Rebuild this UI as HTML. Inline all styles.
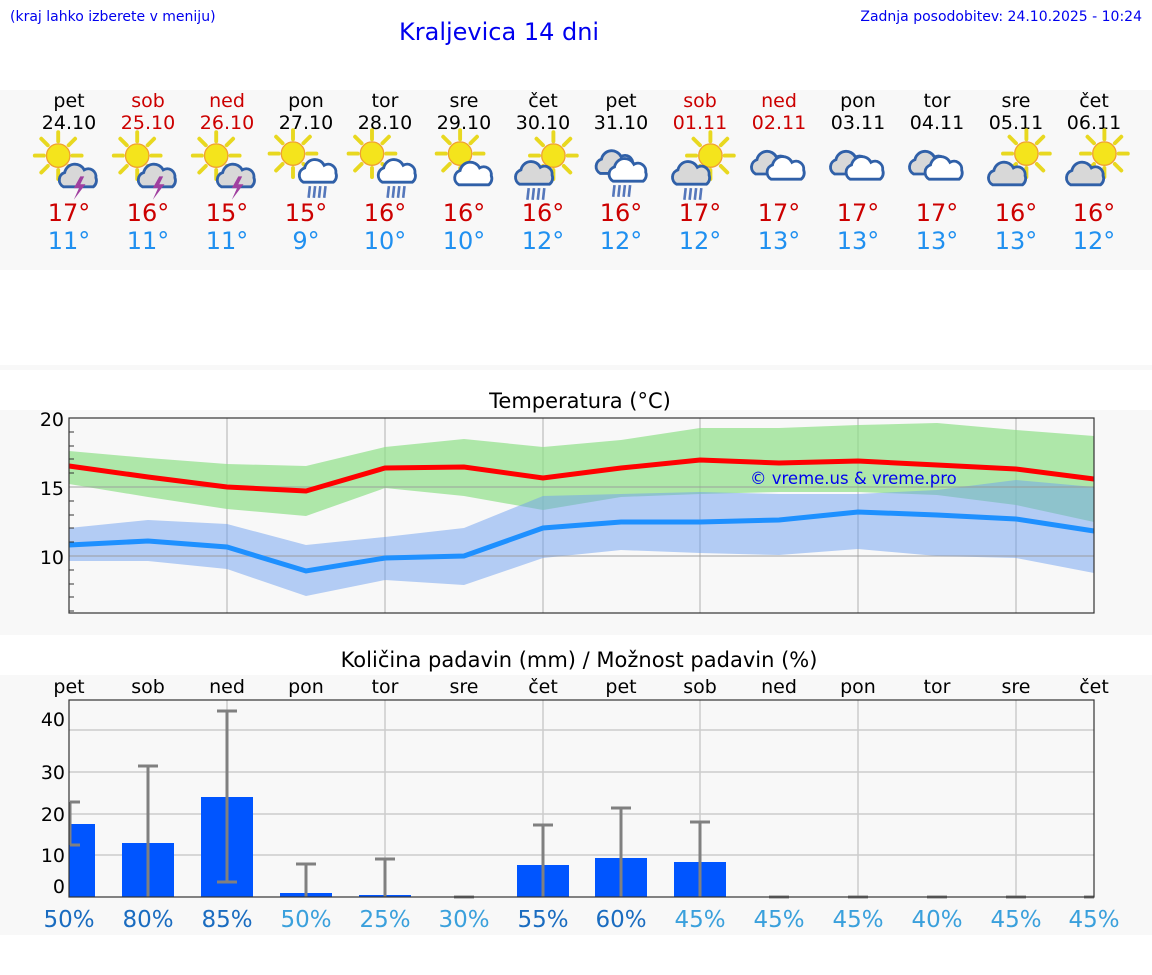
<!DOCTYPE html>
<html><head><meta charset="utf-8"><style>
body{margin:0;width:1152px;height:975px;background:#fff;font-family:"DejaVu Sans","Liberation Sans",sans-serif;overflow:hidden;position:relative}
svg{position:absolute;left:0;top:0}
</style></head><body>
<svg width="1152" height="975" viewBox="0 0 1152 975" font-family="DejaVu Sans, Liberation Sans, sans-serif">
<defs>
<g id="sun"><g stroke="#e8d820" stroke-width="3" stroke-linecap="round">
<line x1="0" y1="-11" x2="0" y2="-18"/><line x1="0" y1="11" x2="0" y2="18"/><line x1="-11" y1="0" x2="-18" y2="0"/><line x1="11" y1="0" x2="18" y2="0"/>
<line x1="8" y1="8" x2="13" y2="13"/><line x1="-8" y1="-8" x2="-13" y2="-13"/><line x1="8" y1="-8" x2="13" y2="-13"/><line x1="-8" y1="8" x2="-13" y2="13"/></g>
<circle r="9" fill="#f4e41c" stroke="#f0a030" stroke-width="1"/></g>
<path id="cl" d="M-12,8 a6,6 0 0 1 1,-11 a8,8 0 0 1 15,-2 a6,6 0 0 1 9,6 a6,6 0 0 1 -2,7 z" stroke="#3060a8" stroke-width="2.2"/>
<g id="rain" stroke="#5577bb" stroke-width="2"><line x1="-5" y1="0" x2="-6" y2="9"/><line x1="-1" y1="0" x2="-2" y2="9"/><line x1="3" y1="0" x2="2" y2="9"/><line x1="7" y1="0" x2="6" y2="9"/></g>
<g id="i0"><use href="#sun" x="-6" y="-8"/><use href="#cl" x="10" y="8" fill="#d8d8d8"/><path d="M11,8 l-5,9 h4 l-4,9 l9,-12 h-4 l3,-6z" fill="#a040a0"/></g>
<g id="i3"><use href="#sun" x="-10" y="-8"/><use href="#cl" x="10" y="6" fill="#fff"/><use href="#rain" x="8" y="17"/></g>
<g id="i5"><use href="#sun" x="-3" y="-8"/><use href="#cl" x="8" y="8" fill="#fff"/></g>
<g id="i6"><use href="#sun" x="8" y="-8"/><use href="#cl" x="-6" y="6" fill="#d8d8d8"/><use href="#rain" x="-6" y="17"/></g>
<g id="i7"><use href="#cl" x="-4" y="0" fill="#d8d8d8"/><use href="#cl" x="6" y="6" fill="#fff"/><use href="#rain" x="0" y="17"/></g>
<g id="i9"><use href="#cl" x="-6" y="2" fill="#d8d8d8"/><use href="#cl" x="6" y="6" fill="#fff"/></g>
<g id="i12"><use href="#sun" x="8" y="-8"/><use href="#cl" x="-6" y="8" fill="#d8d8d8"/></g>
</defs>

<text x="10" y="21" font-size="14" fill="#0000ee">(kraj lahko izberete v meniju)</text>
<text x="399" y="40" font-size="24" fill="#0000ee">Kraljevica 14 dni</text>
<text x="1142" y="21" font-size="14" fill="#0000ee" text-anchor="end">Zadnja posodobitev: 24.10.2025 - 10:24</text>

<rect x="0" y="90" width="1152" height="180" fill="#f8f8f8"/>
<rect x="0" y="365" width="1152" height="5" fill="#f8f8f8"/>
<rect x="0" y="410" width="1152" height="225" fill="#f8f8f8"/>
<rect x="0" y="675" width="1152" height="260" fill="#f8f8f8"/>

<g font-size="19" text-anchor="middle">
<g fill="#000"><text x="69" y="107">pet</text><text x="306" y="107">pon</text><text x="385" y="107">tor</text><text x="464" y="107">sre</text><text x="543" y="107">čet</text><text x="621" y="107">pet</text><text x="858" y="107">pon</text><text x="937" y="107">tor</text><text x="1016" y="107">sre</text><text x="1094" y="107">čet</text>
<text x="69" y="129">24.10</text><text x="306" y="129">27.10</text><text x="385" y="129">28.10</text><text x="464" y="129">29.10</text><text x="543" y="129">30.10</text><text x="621" y="129">31.10</text><text x="858" y="129">03.11</text><text x="937" y="129">04.11</text><text x="1016" y="129">05.11</text><text x="1094" y="129">06.11</text></g>
<g fill="#cc0000"><text x="148" y="107">sob</text><text x="227" y="107">ned</text><text x="700" y="107">sob</text><text x="779" y="107">ned</text>
<text x="148" y="129">25.10</text><text x="227" y="129">26.10</text><text x="700" y="129">01.11</text><text x="779" y="129">02.11</text></g>
</g>

<g transform="translate(66,166) scale(1.3)"><use href="#i0"/></g>
<g transform="translate(145,166) scale(1.3)"><use href="#i0"/></g>
<g transform="translate(224,166) scale(1.3)"><use href="#i0"/></g>
<g transform="translate(306,164) scale(1.3)"><use href="#i3"/></g>
<g transform="translate(385,164) scale(1.3)"><use href="#i3"/></g>
<g transform="translate(464,164) scale(1.3)"><use href="#i5"/></g>
<g transform="translate(543,166) scale(1.3)"><use href="#i6"/></g>
<g transform="translate(621,163) scale(1.3)"><use href="#i7"/></g>
<g transform="translate(700,166) scale(1.3)"><use href="#i6"/></g>
<g transform="translate(779,161) scale(1.3)"><use href="#i9"/></g>
<g transform="translate(858,161) scale(1.3)"><use href="#i9"/></g>
<g transform="translate(937,161) scale(1.3)"><use href="#i9"/></g>
<g transform="translate(1016,164) scale(1.3)"><use href="#i12"/></g>
<g transform="translate(1094,164) scale(1.3)"><use href="#i12"/></g>

<g font-size="24" text-anchor="middle" fill="#cc0000">
<text x="69" y="221">17°</text><text x="148" y="221">16°</text><text x="227" y="221">15°</text><text x="306" y="221">15°</text><text x="385" y="221">16°</text><text x="464" y="221">16°</text><text x="543" y="221">16°</text><text x="621" y="221">16°</text><text x="700" y="221">17°</text><text x="779" y="221">17°</text><text x="858" y="221">17°</text><text x="937" y="221">17°</text><text x="1016" y="221">16°</text><text x="1094" y="221">16°</text></g>
<g font-size="24" text-anchor="middle" fill="#2090f0">
<text x="69" y="249">11°</text><text x="148" y="249">11°</text><text x="227" y="249">11°</text><text x="306" y="249">9°</text><text x="385" y="249">10°</text><text x="464" y="249">10°</text><text x="543" y="249">12°</text><text x="621" y="249">12°</text><text x="700" y="249">12°</text><text x="779" y="249">13°</text><text x="858" y="249">13°</text><text x="937" y="249">13°</text><text x="1016" y="249">13°</text><text x="1094" y="249">12°</text></g>

<text x="580" y="408" font-size="21" text-anchor="middle" fill="#000">Temperatura (°C)</text>
<g stroke="#bbb" stroke-width="1.5" opacity="0.8">
<line x1="227" y1="418" x2="227" y2="613"/><line x1="385" y1="418" x2="385" y2="613"/><line x1="543" y1="418" x2="543" y2="613"/><line x1="700" y1="418" x2="700" y2="613"/><line x1="858" y1="418" x2="858" y2="613"/><line x1="1016" y1="418" x2="1016" y2="613"/>
</g>
<polygon fill="#8fdf88" opacity="0.7" points="69,451 148,458 227,464 306,466 385,447 464,439 543,447 621,440 700,428 779,428 858,425 937,423 1016,430 1094,436 1094,522 1016,505 937,495 858,492 779,492 700,494 621,497 543,510 464,496 385,488 306,516 227,509 148,497 69,484"/>
<polygon fill="#6e9ff0" opacity="0.5" points="69,528 148,520 227,524 306,545 385,537 464,528 543,496 621,494 700,492 779,494 858,494 937,490 1016,480 1094,487 1094,573 1016,558 937,556 858,549 779,555 700,553 621,550 543,558 464,585 385,580 306,596 227,569 148,561 69,561"/>
<g stroke="#999" stroke-width="1.5" opacity="0.6"><line x1="69" y1="487" x2="1094" y2="487"/><line x1="69" y1="556" x2="1094" y2="556"/></g>
<polyline fill="none" stroke="#ff0000" stroke-width="5" points="69,466 148,477 227,487 306,491 385,468 464,467 543,478 621,468 700,460 779,463 858,461 937,465 1016,469 1094,479"/>
<polyline fill="none" stroke="#1e90ff" stroke-width="5" points="69,545 148,541 227,547 306,571 385,558 464,556 543,528 621,522 700,522 779,520 858,512 937,515 1016,519 1094,531"/>
<rect x="69" y="418" width="1025" height="195" fill="none" stroke="#333" stroke-width="1.2"/>
<g stroke="#333" stroke-width="1"><line x1="69" y1="432" x2="74" y2="432"/><line x1="69" y1="446" x2="74" y2="446"/><line x1="69" y1="459" x2="74" y2="459"/><line x1="69" y1="473" x2="74" y2="473"/><line x1="69" y1="501" x2="74" y2="501"/><line x1="69" y1="515" x2="74" y2="515"/><line x1="69" y1="528" x2="74" y2="528"/><line x1="69" y1="542" x2="74" y2="542"/><line x1="69" y1="570" x2="74" y2="570"/><line x1="69" y1="584" x2="74" y2="584"/><line x1="69" y1="597" x2="74" y2="597"/><line x1="69" y1="611" x2="74" y2="611"/></g>
<g font-size="19" fill="#000" text-anchor="end"><text x="64" y="426">20</text><text x="64" y="495">15</text><text x="64" y="564">10</text></g>
<text x="750" y="484" font-size="16.5" fill="#0000ee">© vreme.us &amp; vreme.pro</text>

<text x="579" y="667" font-size="21" text-anchor="middle" fill="#000">Količina padavin (mm) / Možnost padavin (%)</text>
<g font-size="19" text-anchor="middle" fill="#000">
<text x="69" y="693">pet</text><text x="148" y="693">sob</text><text x="227" y="693">ned</text><text x="306" y="693">pon</text><text x="385" y="693">tor</text><text x="464" y="693">sre</text><text x="543" y="693">čet</text><text x="621" y="693">pet</text><text x="700" y="693">sob</text><text x="779" y="693">ned</text><text x="858" y="693">pon</text><text x="937" y="693">tor</text><text x="1016" y="693">sre</text><text x="1094" y="693">čet</text></g>
<g stroke="#ccc" stroke-width="1.5">
<line x1="69" y1="730" x2="1094" y2="730"/><line x1="69" y1="772" x2="1094" y2="772"/><line x1="69" y1="814" x2="1094" y2="814"/><line x1="69" y1="855" x2="1094" y2="855"/>
<line x1="227" y1="700" x2="227" y2="897"/><line x1="385" y1="700" x2="385" y2="897"/><line x1="543" y1="700" x2="543" y2="897"/><line x1="700" y1="700" x2="700" y2="897"/><line x1="858" y1="700" x2="858" y2="897"/><line x1="1016" y1="700" x2="1016" y2="897"/></g>
<g fill="#0055ff">
<rect x="69" y="824" width="26" height="73"/><rect x="122" y="843" width="52" height="54"/><rect x="201" y="797" width="52" height="100"/><rect x="280" y="893" width="52" height="4"/><rect x="359" y="895" width="52" height="2"/><rect x="517" y="865" width="52" height="32"/><rect x="595" y="858" width="52" height="39"/><rect x="674" y="862" width="52" height="35"/></g>
<g stroke="#808080" stroke-width="3" fill="none">
<path d="M70,802 V845 M70,802 h10 M70,845 h10"/>
<path d="M148,766 V897 M138,766 h20"/>
<path d="M227,711 V882 M217,711 h20 M217,882 h20"/>
<path d="M306,864 V897 M296,864 h20"/>
<path d="M385,859 V897 M375,859 h20"/>
<path d="M543,825 V897 M533,825 h20"/>
<path d="M621,808 V897 M611,808 h20"/>
<path d="M700,822 V897 M690,822 h20"/>
<path d="M454,897 h20 M769,897 h20 M848,897 h20 M927,897 h20 M1006,897 h20 M1084,897 h10"/></g>
<rect x="69" y="700" width="1025" height="197" fill="none" stroke="#333" stroke-width="1.2"/>
<g font-size="19" fill="#000" text-anchor="end"><text x="65" y="726">40</text><text x="65" y="779">30</text><text x="65" y="821">20</text><text x="65" y="862">10</text><text x="65" y="893">0</text></g>
<g font-size="23" text-anchor="middle">
<g fill="#1a6cc0"><text x="69" y="927">50%</text><text x="148" y="927">80%</text><text x="227" y="927">85%</text><text x="543" y="927">55%</text><text x="621" y="927">60%</text></g>
<g fill="#3aa0dc"><text x="306" y="927">50%</text><text x="385" y="927">25%</text><text x="464" y="927">30%</text><text x="700" y="927">45%</text><text x="779" y="927">45%</text><text x="858" y="927">45%</text><text x="937" y="927">40%</text><text x="1016" y="927">45%</text><text x="1094" y="927">45%</text></g></g>
</svg>
</body></html>
